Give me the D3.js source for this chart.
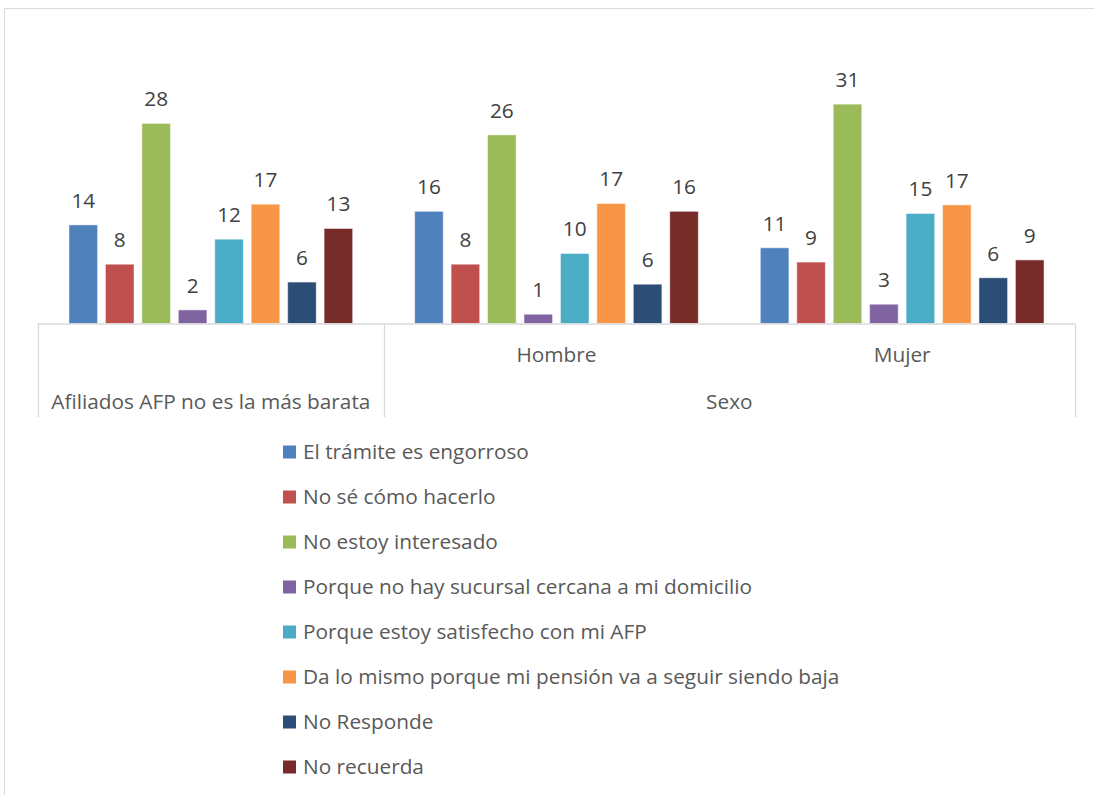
<!DOCTYPE html>
<html>
<head>
<meta charset="utf-8">
<script src="https://cdn.jsdelivr.net/npm/d3@7"></script>
<style>
  body { margin: 0; background: #fff; }
  svg { display: block; font-family: "Open Sans", Lato, sans-serif; }
</style>
</head>
<body>
<div id="chart"></div>
<script>
// category rows (bottom row = parent group)
const categories = ["", "Hombre", "Mujer"];
const parents = ["Afiliados AFP no es la más barata", "Sexo", "Sexo"];

const seriesNames = [
    "El trámite es engorroso",
    "No sé cómo hacerlo",
    "No estoy interesado",
    "Porque no hay sucursal cercana a mi domicilio",
    "Porque estoy satisfecho con mi AFP",
    "Da lo mismo porque mi pensión va a seguir siendo baja",
    "No Responde",
    "No recuerda"
];

// one array per category, in series order
const afiliados = [13.8, 8.3, 28.0, 1.9, 11.8, 16.7, 5.8, 13.3];
const hombre = [15.7, 8.3, 26.4, 1.3, 9.8, 16.8, 5.5, 15.7];
const mujer = [10.6, 8.6, 30.7, 2.7, 15.4, 16.6, 6.4, 8.9];
const values = [afiliados, hombre, mujer];

const colors = ["#4F81BD", "#C0504D", "#9BBB59", "#8064A2", "#4BACC6", "#F79646", "#2C4D75", "#772C2A"];

const W = 1094, H = 795;
const plot = { left: 38, right: 1075, top: 73.4, bottom: 323.5 };
const fontSize = "20.8px";

const svg = d3.select("#chart").append("svg")
    .attr("width", W)
    .attr("height", H);

// chart area border (cut by the page on right and bottom)
svg.append("rect")
    .attr("x", 4.5).attr("y", 8.5)
    .attr("width", 1200).attr("height", 900)
    .style("fill", "none")
    .style("stroke", "#d9d9d9");

//Scales
let x0 = d3.scaleBand()
    .domain(d3.range(categories.length))
    .range([plot.left, plot.right])
    .padding(0);

let x1 = d3.scaleBand()
    .domain(d3.range(seriesNames.length))
    .range([0, x0.bandwidth()])
    .paddingInner(0.215)
    .paddingOuter(0.85);

let y = d3.scaleLinear().domain([0, 35]).range([plot.bottom, plot.top]);

const fmt = d3.format(".0f");

//Bars
let groups = svg.selectAll(".group")
    .data(values)
    .enter()
    .append("g")
    .attr("class", "group")
    .attr("transform", (d, i) => "translate(" + x0(i) + ",0)");

groups.selectAll("rect")
    .data(d => d)
    .enter()
    .append("rect")
    .attr("x", (d, i) => x1(i))
    .attr("y", d => y(d))
    .attr("width", x1.bandwidth())
    .attr("height", d => y(0) - y(d))
    .style("fill", (d, i) => colors[i])
    .style("stroke", "#ffffff")
    .style("stroke-opacity", 0.5)
    .style("stroke-width", 1);

//Data labels
groups.selectAll(".label")
    .data(d => d)
    .enter()
    .append("text")
    .attr("class", "label")
    .attr("x", (d, i) => x1(i) + x1.bandwidth() / 2)
    .attr("y", d => y(d) - 17)
    .attr("text-anchor", "middle")
    .style("font-size", fontSize)
    .style("fill", "#404040")
    .text(d => fmt(d));

//Category axis (two levels)
let axisG = svg.append("g").style("stroke", "#d9d9d9").style("stroke-width", 1.3);
const axisBottom = 417;

axisG.append("line")
    .attr("x1", plot.left).attr("x2", plot.right)
    .attr("y1", plot.bottom + 0.5).attr("y2", plot.bottom + 0.5);

// vertical dividers where the parent group changes, plus the ends
let edges = [plot.left];
parents.forEach((p, i) => {
    if (i > 0 && p !== parents[i - 1]) edges.push(x0(i));
});
edges.push(plot.right);

axisG.selectAll(".divider")
    .data(edges)
    .enter()
    .append("line")
    .attr("x1", d => Math.round(d) + 0.5)
    .attr("x2", d => Math.round(d) + 0.5)
    .attr("y1", plot.bottom)
    .attr("y2", axisBottom);

// first level labels
svg.selectAll(".cat")
    .data(categories)
    .enter()
    .append("text")
    .attr("class", "cat")
    .attr("x", (d, i) => x0(i) + x0.bandwidth() / 2)
    .attr("y", 362)
    .attr("text-anchor", "middle")
    .style("font-size", fontSize)
    .style("fill", "#595959")
    .text(d => d);

// parent level labels, centered on their span
let parentSpans = [];
parents.forEach((p, i) => {
    let last = parentSpans[parentSpans.length - 1];
    if (last && last.name === p) {
        last.end = x0(i) + x0.bandwidth();
    } else {
        parentSpans.push({ name: p, start: x0(i), end: x0(i) + x0.bandwidth() });
    }
});

svg.selectAll(".parent")
    .data(parentSpans)
    .enter()
    .append("text")
    .attr("class", "parent")
    .attr("x", d => (d.start + d.end) / 2)
    .attr("y", 409)
    .attr("text-anchor", "middle")
    .style("font-size", fontSize)
    .style("fill", "#595959")
    .text(d => d.name);

//Legend
let legend = svg.selectAll(".legendItem")
    .data(seriesNames)
    .enter()
    .append("g")
    .attr("class", "legendItem")
    .attr("transform", (d, i) => "translate(283," + (452 + i * 45) + ")");

legend.append("rect")
    .attr("x", 0)
    .attr("y", -6.5)
    .attr("width", 13)
    .attr("height", 13)
    .style("fill", (d, i) => colors[i]);

legend.append("text")
    .attr("x", 20)
    .attr("dy", "0.35em")
    .style("font-size", fontSize)
    .style("fill", "#595959")
    .text(d => d);
</script>
</body>
</html>
